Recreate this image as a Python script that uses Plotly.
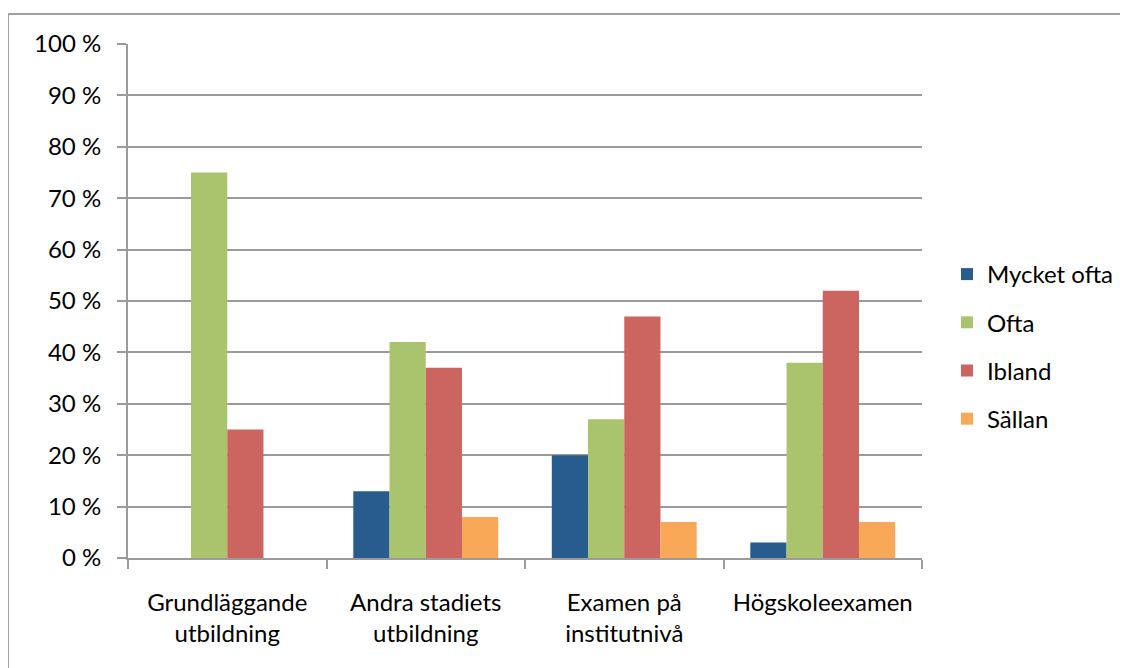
import plotly.graph_objects as go

categories = ["Grundläggande<br>utbildning", "Andra stadiets<br>utbildning",
              "Examen på<br>institutnivå", "Högskoleexamen"]
mycket_ofta = [0, 13, 20, 3]
ofta = [75, 42, 27, 38]
ibland = [25, 37, 47, 52]
sallan = [0, 8, 7, 7]
series_names = ["Mycket ofta", "Ofta", "Ibland", "Sällan"]
colors = ["#285C8F", "#A9C46C", "#CC6560", "#F9A857"]
y_ticks = [0, 10, 20, 30, 40, 50, 60, 70, 80, 90, 100]
y_tick_labels = [f"{v} %" for v in y_ticks]

# page body has an 8px margin; work in reference pixel coords minus 8
OFF = 8
W, H = 1128 - OFF, 668 - OFF
L, R, T, B = 128 - OFF, 922 - OFF, 44 - OFF, 558 - OFF

fig = go.Figure()
for name, vals, col in zip(series_names, [mycket_ofta, ofta, ibland, sallan], colors):
    fig.add_trace(go.Bar(x=categories, y=vals, name=name, marker=dict(color=col, line=dict(width=0)),
                         legendgroup=name))

def px_x(p):
    return (p - OFF - L) / (R - L)

def px_y(q):
    return (B - (q - OFF)) / (B - T)

fig.update_layout(
    width=W, height=H,
    margin=dict(l=L, r=W - R, t=T, b=H - B, pad=0, autoexpand=False),
    paper_bgcolor="white", plot_bgcolor="white",
    barmode="group", bargap=0.27, bargroupgap=0,
    font=dict(family="Lato, Open Sans, sans-serif", size=24, color="#000000"),
    legend=dict(x=px_x(947), y=px_y(252), xanchor="left", yanchor="top",
                font=dict(size=24), tracegroupgap=14, itemwidth=30,
                traceorder="grouped"),
    shapes=[dict(type="path", xref="paper", yref="paper",
                 path=f"M {px_x(8)},{px_y(680)} L {px_x(8)},{px_y(14)} L {px_x(1140)},{px_y(14)}",
                 line=dict(color="#A0A0A0", width=2))],
)
fig.update_xaxes(type="category", showline=True, linecolor="#9B9B9B", linewidth=2,
                 ticks="outside", tickson="boundaries", ticklen=9, tickcolor="#9B9B9B", tickwidth=2,
                 showgrid=False, ticklabelstandoff=22, range=[-0.5, 3.5])
fig.update_yaxes(range=[0, 100], tickvals=y_ticks, ticktext=y_tick_labels,
                 showline=True, linecolor="#9B9B9B", linewidth=2,
                 ticks="outside", ticklen=9, tickcolor="#9B9B9B", tickwidth=2,
                 showgrid=True, gridcolor="#9B9B9B", gridwidth=2, zeroline=False,
                 ticklabelstandoff=11)

fig.write_html("out.html")
